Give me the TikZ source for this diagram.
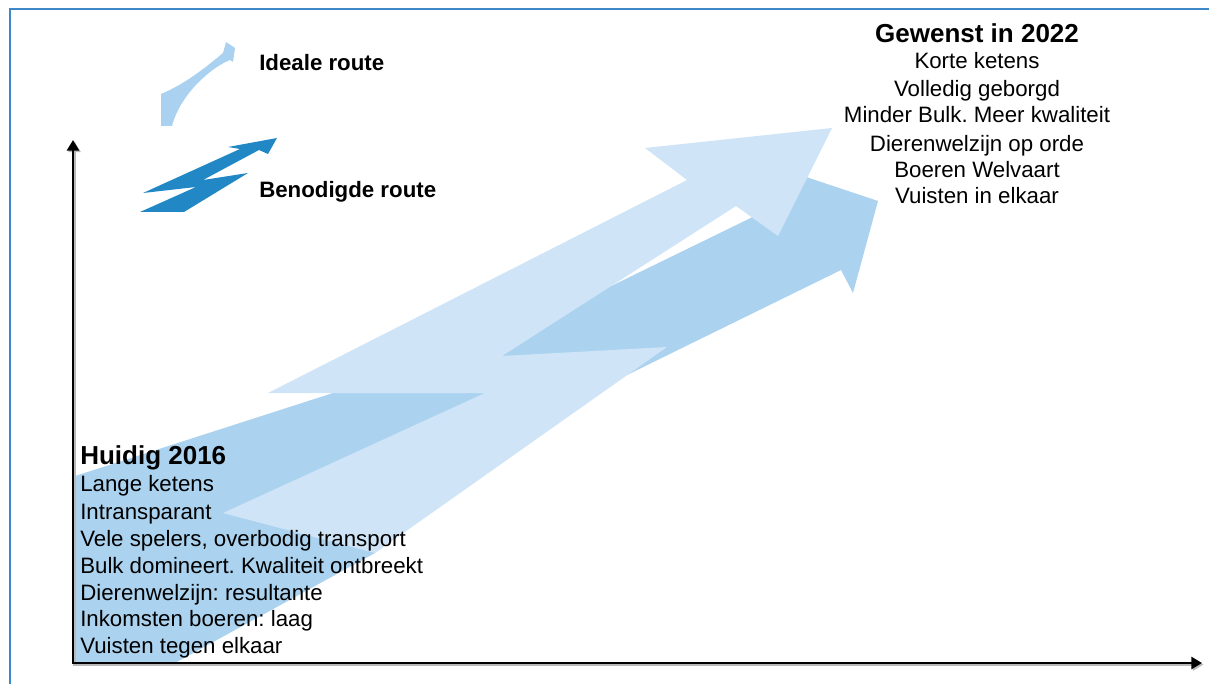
\documentclass[tikz,border=0pt]{standalone}
\usepackage{fontspec}
\setmainfont{Liberation Sans}
\usetikzlibrary{arrows.meta}
\frenchspacing
\definecolor{lightroute}{RGB}{207,228,246}
\definecolor{midroute}{RGB}{171,211,240}
\definecolor{iconlight}{RGB}{170,210,240}
\definecolor{icondark}{RGB}{33,135,197}
\definecolor{framecol}{RGB}{62,135,200}
\tikzset{
  bodytext/.style={font=\fontsize{16.7}{20}\selectfont, inner sep=0pt},
  titletext/.style={font=\fontsize{19.5}{24}\selectfont\bfseries, inner sep=0pt},
  legendtext/.style={font=\fontsize{16.7}{20}\selectfont\bfseries, inner sep=0pt},
  axisline/.style={line width=2.2pt, line join=miter, {Triangle[length=8pt,width=9pt]}-{Triangle[length=8pt,width=9pt]}},
}
\begin{document}
\begin{tikzpicture}[x=0.75pt,y=-0.75pt]
\useasboundingbox (0,0) rectangle (1209,684);
% frame
\draw[framecol, line width=1.5pt] (1209,9) -- (10,9) -- (10,684);
% benodigde route (medium blue zigzag)
\fill[midroute] (72,663) -- (175,663) -- (375,553) -- (520,440) -- (627,375) -- (841,270) -- (853,293) -- (878,201) -- (770,165) -- (765,211) -- (560,311) -- (333,393) -- (72,477) -- cycle;
% ideale route (light blue)
\fill[lightroute] (268,393) -- (687,180) -- (645,148) -- (832,128) -- (778,236) -- (736,206) -- (502,356) -- (667,347) -- (375,553) -- (223,513) -- (485,393) -- cycle;
% axes
\coordinate (O) at (73,663);
\coordinate (Ytop) at (73,140);
\coordinate (Xend) at (1202,663);
\draw[axisline, gray!55] ([shift={(1.5,1.5)}]Ytop) -- ([shift={(1.5,1.5)}]O) -- ([shift={(1.5,1.5)}]Xend);
\draw[axisline, black] (Ytop) -- (O) -- (Xend);
% legend icons
\fill[iconlight] (161,126) -- (161,94) .. controls (185,84) and (205,68) .. (223,53) -- (226,42) -- (235,48) -- (233,62) -- (230,60) .. controls (210,68) and (180,95) .. (172,126) -- cycle;
\fill[icondark] (143,193) -- (240,149) -- (228,147) -- (277,138) -- (268,154) -- (259,150) -- (203,180) -- (248,173) -- (184,212) -- (140,212) -- (196,187) -- cycle;
\node[legendtext, anchor=base west] (lg1) at (259,71) {Ideale route};
\node[legendtext, anchor=base west] (lg2) at (259,198) {Benodigde route};
% current state
\node[titletext, anchor=base west] (h0) at (80,464) {Huidig 2016};
\node[bodytext, anchor=base west] (h1) at (80,491.5) {Lange ketens};
\node[bodytext, anchor=base west] (h2) at (80,519) {Intransparant};
\node[bodytext, anchor=base west] (h3) at (80,546) {Vele spelers, overbodig transport};
\node[bodytext, anchor=base west] (h4) at (80,573) {Bulk domineert. Kwaliteit ontbreekt};
\node[bodytext, anchor=base west] (h5) at (80,600) {Dierenwelzijn: resultante};
\node[bodytext, anchor=base west] (h6) at (80,626.5) {Inkomsten boeren: laag};
\node[bodytext, anchor=base west] (h7) at (80,653) {Vuisten tegen elkaar};
% desired state
\node[titletext, anchor=base] (g0) at (977,42.5) {Gewenst in 2022};
\node[bodytext, anchor=base] (g1) at (977,68.5) {Korte ketens};
\node[bodytext, anchor=base] (g2) at (977,96.5) {Volledig geborgd};
\node[bodytext, anchor=base] (g3) at (977,122.5) {Minder Bulk. Meer kwaliteit};
\node[bodytext, anchor=base] (g4) at (977,151.5) {Dierenwelzijn op orde};
\node[bodytext, anchor=base] (g5) at (977,177.5) {Boeren Welvaart};
\node[bodytext, anchor=base] (g6) at (977,203.5) {Vuisten in elkaar};
\end{tikzpicture}
\end{document}
